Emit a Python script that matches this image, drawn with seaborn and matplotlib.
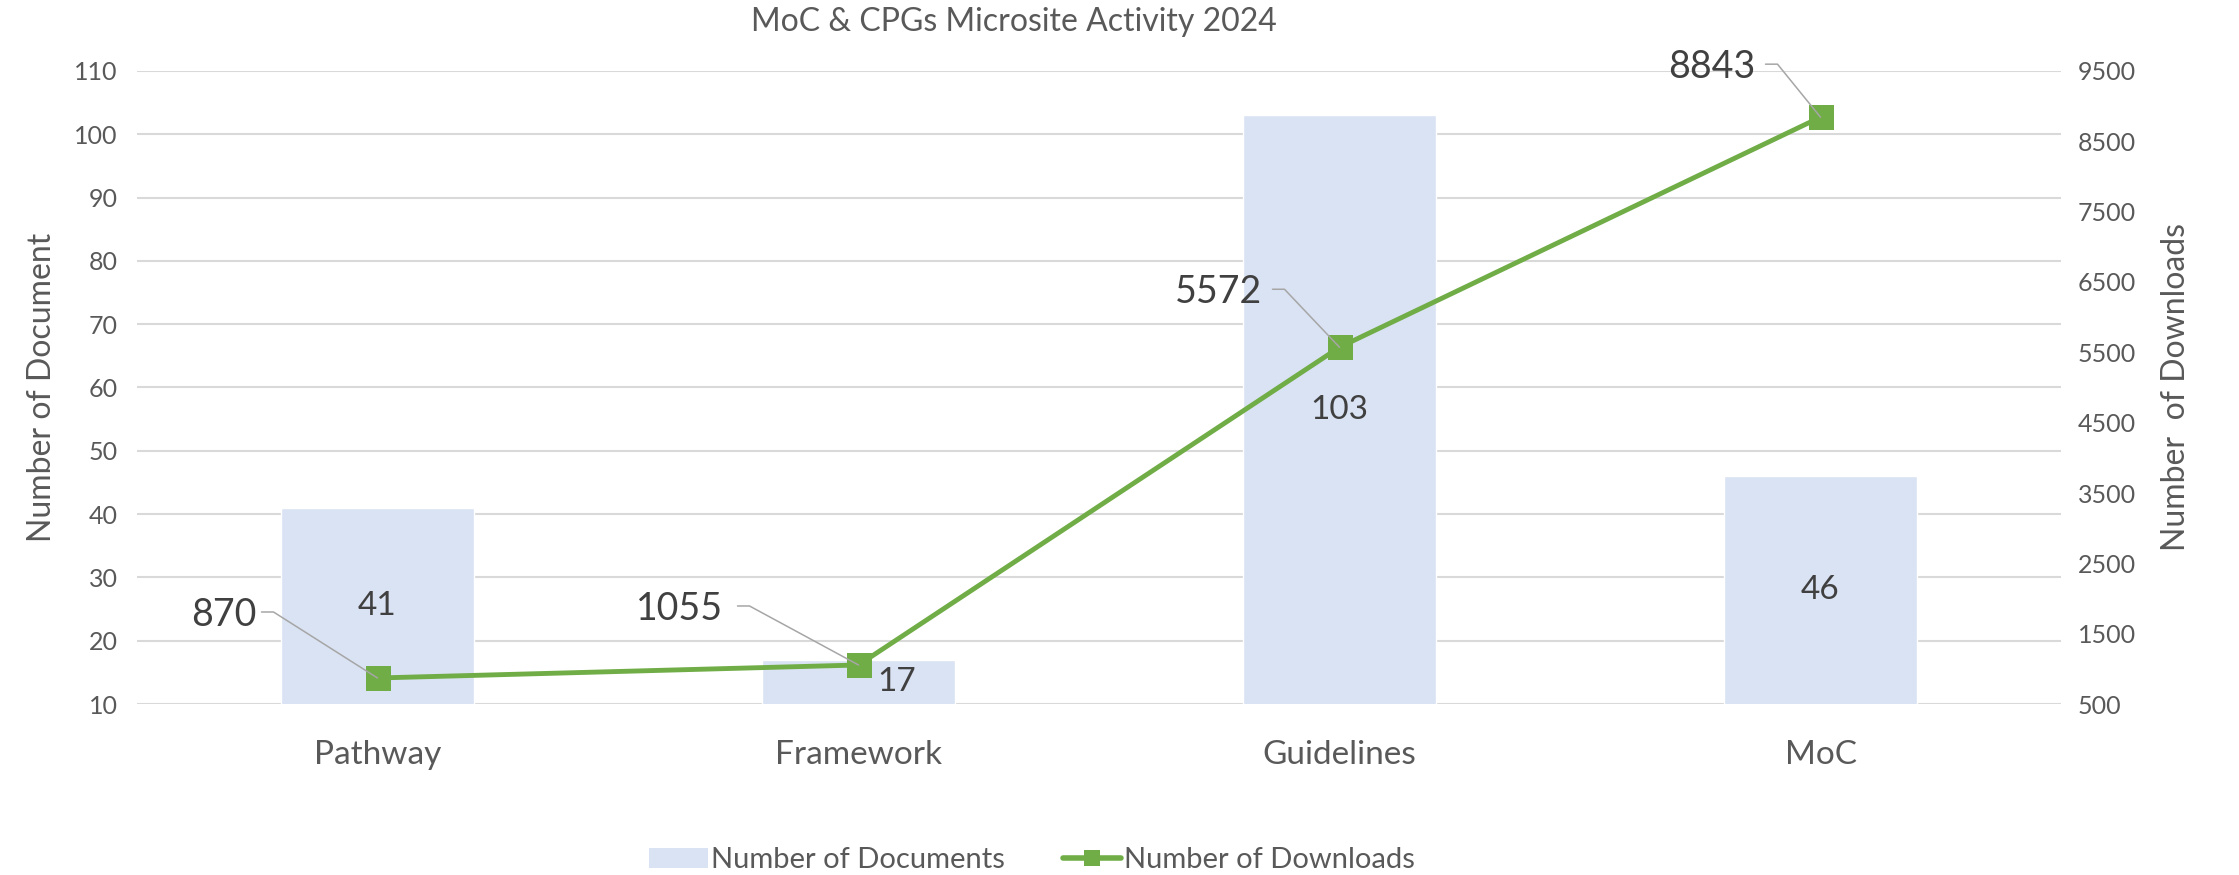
import matplotlib
matplotlib.use("Agg")
import matplotlib.pyplot as plt
import seaborn as sns
import numpy as np
from matplotlib.lines import Line2D
from matplotlib.patches import Patch
from matplotlib.transforms import IdentityTransform

# data
categories = ["Pathway", "Framework", "Guidelines", "MoC"]
documents = [41, 17, 103, 46]
downloads = [870, 1055, 5572, 8843]

# leader line offsets for the download labels (pixels: corner dx, dy, text dx)
label_offsets = [(-104, 66, -121), (-109, 59, -135), (-55, 58, -77), (-43, 53, -65)]
# small sideways nudge of the bar labels (in category units)
bar_label_nudge = [0, 0.08, 0, 0]

bar_color = "#dae3f3"
line_color = "#70ad47"
grid_color = "#d9d9d9"
text_color = "#595959"
label_color = "#404040"

sns.set_theme(style="white")
plt.rcParams["font.family"] = ["Lato", "DejaVu Sans"]

fig = plt.figure(figsize=(22.39, 8.75), dpi=100)
ax = fig.add_axes([0.0612, 0.1954, 0.8593, 0.7235])

sns.barplot(x=categories, y=documents, ax=ax, color=bar_color, width=0.4,
            saturation=1, zorder=2)
ax.set_ylim(10, 110)
ax.set_yticks(range(10, 111, 10))
ax.set_xlim(-0.5, 3.5)
ax.grid(axis="y", color=grid_color, lw=1.5, zorder=0)
ax.set_axisbelow(True)
for s in ax.spines.values():
    s.set_visible(False)
ax.tick_params(axis="y", labelsize=18, colors=text_color, length=0, pad=14)
ax.tick_params(axis="x", labelsize=24, colors=text_color, length=0, pad=26)
ax.set_xlabel("")
ax.set_ylabel("Number of Document", fontsize=23, color=text_color, labelpad=12)

# bar values in the middle of the visible bar
for i, v in enumerate(documents):
    ax.text(i + bar_label_nudge[i], (10 + v) / 2, str(v), ha="center", va="center",
            fontsize=24, color=label_color, zorder=3)

ax2 = ax.twinx()
sns.lineplot(x=np.arange(len(categories)), y=downloads, ax=ax2, color=line_color,
             lw=3.5, marker="s", markersize=18, markeredgewidth=0, zorder=4)
ax2.set_ylim(500, 9500)
ax2.set_yticks(range(500, 9501, 1000))
ax2.set_xlim(-0.5, 3.5)
for s in ax2.spines.values():
    s.set_visible(False)
ax2.tick_params(axis="y", labelsize=18, colors=text_color, length=0, pad=12)
ax2.set_ylabel("Number  of Downloads", fontsize=23, color=text_color, labelpad=18)
ax2.grid(False)

# download labels with leader lines
fig.canvas.draw()
for i, v in enumerate(downloads):
    x0, y0 = ax2.transData.transform((i, v))
    cdx, cdy, tdx = label_offsets[i]
    fig.add_artist(Line2D([x0, x0 + cdx, x0 + cdx - 12], [y0, y0 + cdy, y0 + cdy],
                          color="#a6a6a6", lw=1.1, transform=IdentityTransform(),
                          zorder=10))
    fig.text(x0 + tdx, y0 + cdy - 3, str(v), transform=IdentityTransform(),
             ha="right", va="center", fontsize=27, color=label_color)

fig.text(0.453, 0.975, "MoC & CPGs Microsite Activity 2024", ha="center",
         va="center", fontsize=23, color=text_color)

handles = [Patch(facecolor=bar_color, edgecolor="none"),
           Line2D([], [], color=line_color, lw=4, marker="s", markersize=12,
                  markeredgewidth=0)]
fig.legend(handles, ["Number of Documents", "Number of Downloads"], loc="center",
           bbox_to_anchor=(0.461, 0.017), ncol=2, frameon=False, fontsize=21,
           labelcolor=text_color, handlelength=2.0, handletextpad=0.1,
           columnspacing=2.0)

fig.savefig("out.png", dpi=100)
